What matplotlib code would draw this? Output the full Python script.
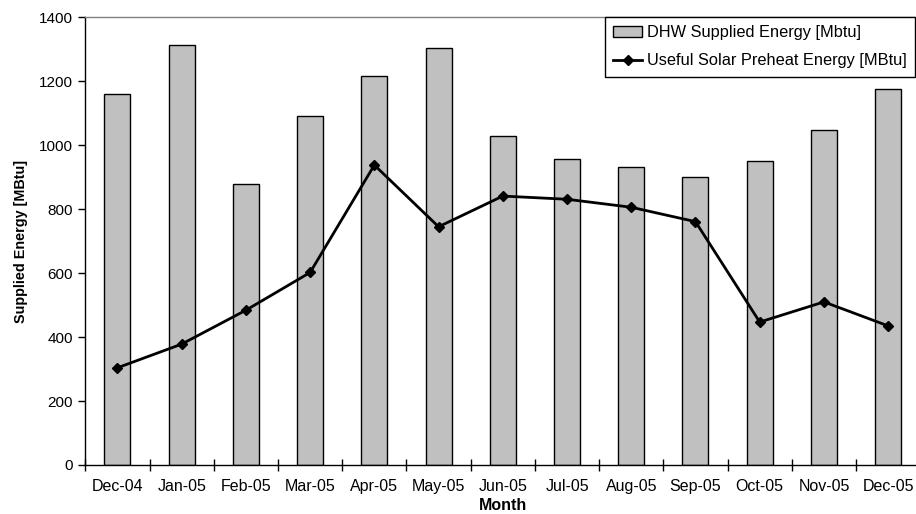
import numpy as np
import matplotlib.pyplot as plt
from matplotlib.patches import Rectangle
from matplotlib.legend_handler import HandlerPatch

plt.rcParams['font.family'] = ['Liberation Sans', 'DejaVu Sans']

months = ["Dec-04", "Jan-05", "Feb-05", "Mar-05", "Apr-05", "May-05", "Jun-05",
          "Jul-05", "Aug-05", "Sep-05", "Oct-05", "Nov-05", "Dec-05"]
dhw_supplied = [1160, 1314, 878, 1091, 1217, 1303, 1029, 956, 932, 901, 952, 1048, 1177]
solar_preheat = [304, 378, 484, 602, 938, 745, 841, 831, 806, 761, 447, 510, 435]


def flat_box(legend, orig_handle, xdescent, ydescent, width, height, fontsize):
    # thinner swatch for the bar entry
    h = height * 0.6
    return Rectangle((-xdescent, -ydescent + (height - h) / 2), width, h)


fig = plt.figure(figsize=(9.16, 5.14), dpi=100)
ax = fig.add_axes([85.3 / 916, 49 / 514, 835 / 916, 447.7 / 514])

x = np.arange(len(months))
bars = ax.bar(x, dhw_supplied, width=0.405, color="#c0c0c0", edgecolor="black",
              linewidth=1.0, label="DHW Supplied Energy [Mbtu]", zorder=2)
line, = ax.plot(x, solar_preheat, color="black", linewidth=2, marker="D", markersize=5.5,
                label="Useful Solar Preheat Energy [MBtu]", zorder=3)

ax.set_xlim(-0.5, len(months) - 0.5)
ax.set_ylim(0, 1400)
ax.set_yticks(range(0, 1401, 200))
ax.set_xticks(x)
ax.set_xticklabels(months, fontsize=11.5)
ax.set_xticks(np.arange(-0.5, len(months)), minor=True)
ax.tick_params(axis="x", which="major", length=0, pad=10)
ax.tick_params(axis="x", which="minor", length=9, direction="inout", width=1)
ax.tick_params(axis="y", length=5, width=1, labelsize=11, pad=4)

ax.spines["right"].set_visible(False)
ax.spines["top"].set_color("#808080")
ax.spines["top"].set_linewidth(1)
ax.spines["left"].set_linewidth(1)
ax.spines["bottom"].set_linewidth(1)

ax.set_xlabel("Month", fontsize=11.5, fontweight="bold", labelpad=3)
ax.set_ylabel("Supplied Energy [MBtu]", fontsize=10.4, fontweight="bold", labelpad=8)

leg = ax.legend([bars, line], [bars.get_label(), line.get_label()],
                loc="upper left", bbox_to_anchor=(605 / 916, 1 - 17 / 514),
                bbox_transform=fig.transFigure, borderaxespad=0, fontsize=11.8,
                fancybox=False, framealpha=1, edgecolor="black",
                handlelength=1.75, labelspacing=0.8, handletextpad=0.3,
                borderpad=0.5,
                handler_map={type(bars.patches[0]): HandlerPatch(patch_func=flat_box)})
leg.get_frame().set_linewidth(1)

fig.savefig("out.png", dpi=100)
